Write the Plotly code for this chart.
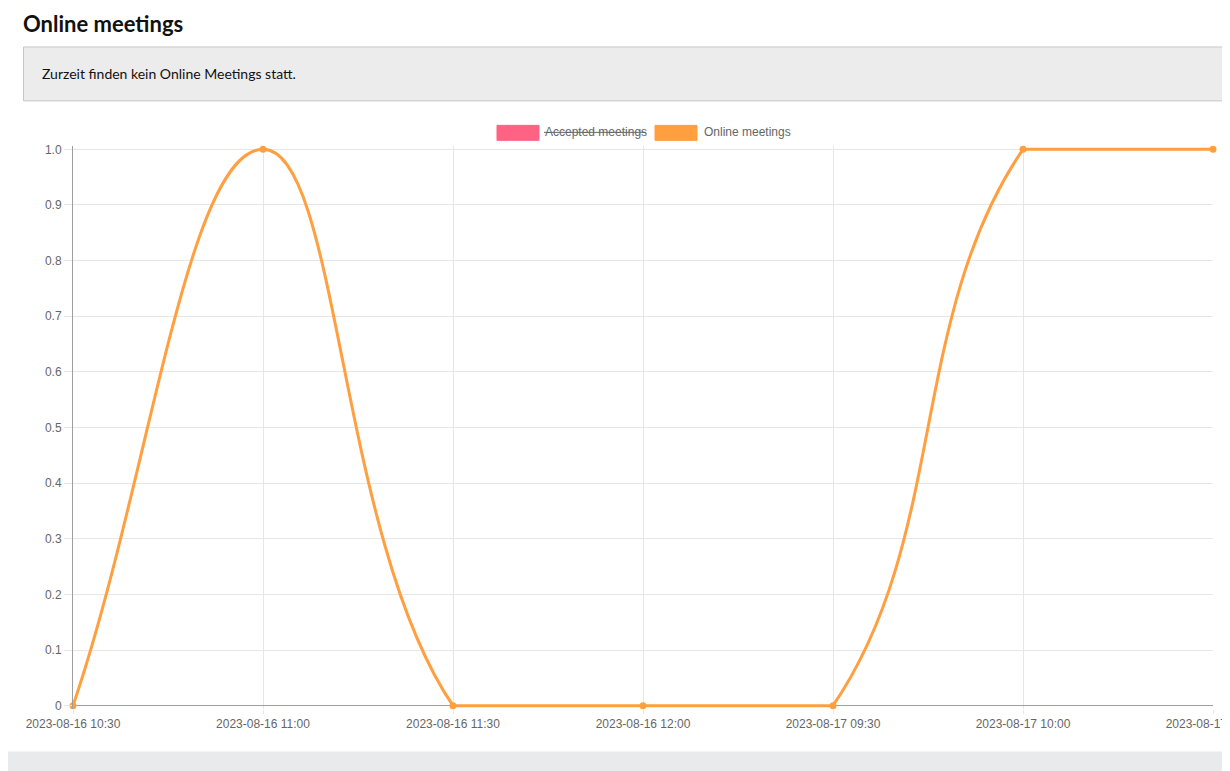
import math
import plotly.graph_objects as go

# ---- data ----
categories = ["2023-08-16 10:30", "2023-08-16 11:00", "2023-08-16 11:30",
              "2023-08-16 12:00", "2023-08-17 09:30", "2023-08-17 10:00",
              "2023-08-17 10:30"]
online_meetings = [0, 1, 0, 0, 0, 1, 1]
y_tick_vals = [0, 0.1, 0.2, 0.3, 0.4, 0.5, 0.6, 0.7, 0.8, 0.9, 1.0]
y_tick_text = ["0", "0.1", "0.2", "0.3", "0.4", "0.5", "0.6", "0.7", "0.8", "0.9", "1.0"]
page_title = "Online meetings"
info_text = "Zurzeit finden kein Online Meetings statt."
legend_labels = ["Accepted meetings", "Online meetings"]
legend_colors = ["#ff6384", "#ff9f40"]

# page is rendered with an 8px body margin -> figure coords = page coords - 8
OFF = 8
W, H = 1230 - OFF, 771 - OFF
L, R, T, B = 73 - OFF, 1213 - OFF, 149 - OFF, 706 - OFF
PAD = 0.006  # small vertical padding so the line at 0 / 1 is not clipped

n = len(categories)
sx = (R - L) / (n - 1)          # px per category
sy = (B - T)                    # px per unit of y
plot_h = (B - T) * (1 + 2 * PAD)
T_fig = B + sy * PAD - plot_h   # top edge of padded plot area
B_fig = B + sy * PAD

def px(x):
    return (x - OFF - L) / (R - L)

def py(y):
    return (B_fig - (y - OFF)) / plot_h

# ---- smooth line (tension 0.4 bezier, control points capped to chart area) ----
def control_points(vals, tension=0.4):
    pts = [(i * sx, v * sy) for i, v in enumerate(vals)]
    ctrls = []
    for i, cur in enumerate(pts):
        prev = pts[i - 1] if i > 0 else cur
        nxt = pts[i + 1] if i < len(pts) - 1 else cur
        d01 = math.dist(prev, cur)
        d12 = math.dist(cur, nxt)
        tot = d01 + d12
        s01 = d01 / tot if tot else 0
        s12 = d12 / tot if tot else 0
        fa, fb = tension * s01, tension * s12
        p_ctrl = (cur[0] - fa * (nxt[0] - prev[0]), cur[1] - fa * (nxt[1] - prev[1]))
        n_ctrl = (cur[0] + fb * (nxt[0] - prev[0]), cur[1] + fb * (nxt[1] - prev[1]))
        def cap(c):
            cx = min(max(c[0] / sx, 0), len(vals) - 1)
            cy = min(max(c[1] / sy, 0), 1)
            return cx, cy
        ctrls.append((cap(p_ctrl), cap(n_ctrl)))
    return ctrls

ctrls = control_points(online_meetings)
path = f"M {0},{online_meetings[0]}"
for i in range(1, n):
    c1 = ctrls[i - 1][1]
    c2 = ctrls[i][0]
    path += f" C {c1[0]:.5f},{c1[1]:.5f} {c2[0]:.5f},{c2[1]:.5f} {i},{online_meetings[i]}"

fig = go.Figure()
fig.add_trace(go.Scatter(
    x=list(range(n)), y=online_meetings, mode="markers",
    marker=dict(color=legend_colors[1], size=7), cliponaxis=False, showlegend=False,
    name=legend_labels[1]))

shapes = []
annotations = []
# data line
shapes.append(dict(type="path", xref="x", yref="y", path=path,
                   line=dict(color=legend_colors[1], width=3), layer="between"))
# bottom grey band
shapes.append(dict(type="rect", xref="paper", yref="paper", x0=px(-20), x1=px(1250),
                   y0=py(752), y1=py(790), fillcolor="#e9eaec", line=dict(width=0), layer="below"))
# info box
shapes.append(dict(type="rect", xref="paper", yref="paper", x0=px(23.5), x1=px(1250),
                   y0=py(100.5), y1=py(46.5), fillcolor="#ececec",
                   line=dict(color="#c6c6c6", width=1), layer="below"))
# legend boxes
shapes.append(dict(type="rect", xref="paper", yref="paper", x0=px(497), x1=px(539),
                   y0=py(140), y1=py(125), fillcolor=legend_colors[0],
                   line=dict(color=legend_colors[0], width=1)))
shapes.append(dict(type="rect", xref="paper", yref="paper", x0=px(655), x1=px(697),
                   y0=py(140), y1=py(125), fillcolor=legend_colors[1],
                   line=dict(color=legend_colors[1], width=1)))
# strikethrough for hidden dataset
shapes.append(dict(type="line", xref="paper", yref="paper", x0=px(544), x1=px(646),
                   y0=py(132), y1=py(132), line=dict(color="#666666", width=1)))

annotations.append(dict(xref="paper", yref="paper", x=px(22), y=py(8), xanchor="left", yanchor="top",
                        text="<b>" + page_title + "</b>", showarrow=False, borderpad=0,
                        font=dict(family="Lato", size=22, color="#111111")))
annotations.append(dict(xref="paper", yref="paper", x=px(40), y=py(73), xanchor="left", yanchor="middle",
                        text=info_text, showarrow=False,
                        font=dict(family="Lato", size=14, color="#111111")))
annotations.append(dict(xref="paper", yref="paper", x=px(543), y=py(132), xanchor="left", yanchor="middle",
                        text=legend_labels[0], showarrow=False,
                        font=dict(family="Liberation Sans", size=12, color="#666666")))
annotations.append(dict(xref="paper", yref="paper", x=px(702), y=py(132), xanchor="left", yanchor="middle",
                        text=legend_labels[1], showarrow=False,
                        font=dict(family="Liberation Sans", size=12, color="#666666")))

fig.update_layout(
    width=W, height=H,
    margin=dict(l=L, r=W - R, t=T_fig, b=H - B_fig, pad=0, autoexpand=False),
    paper_bgcolor="white", plot_bgcolor="white",
    shapes=shapes, annotations=annotations,
    showlegend=False,
    xaxis=dict(range=[0, n - 1], type="linear", tickmode="array",
               tickvals=list(range(n)), ticktext=categories,
               showgrid=True, gridcolor="#e6e6e6", gridwidth=1,
               showline=False, zeroline=False, automargin=False,
               ticks="outside", ticklen=4, tickcolor="#e6e6e6",
               tickangle=0, ticklabeloverflow="allow",
               tickfont=dict(family="Liberation Sans", size=12, color="#666666")),
    yaxis=dict(range=[-PAD, 1 + PAD], tickmode="array", tickvals=y_tick_vals, ticktext=y_tick_text,
               showgrid=True, gridcolor="#e6e6e6", gridwidth=1,
               showline=True, linecolor="#9e9e9e", linewidth=1,
               zeroline=True, zerolinecolor="#9e9e9e", zerolinewidth=1, automargin=False,
               ticks="outside", ticklen=8, tickcolor="#e6e6e6",
               tickfont=dict(family="Liberation Sans", size=12, color="#666666")),
)

fig.write_html("out.html")
